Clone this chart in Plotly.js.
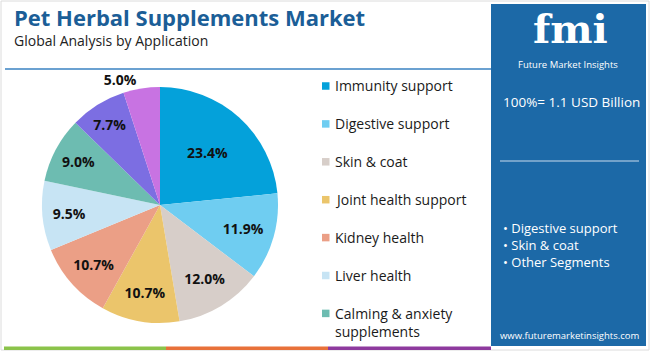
<!DOCTYPE html>
<html>
<head>
<meta charset="utf-8">
<script src="https://cdn.plot.ly/plotly-3.0.1.min.js"></script>
<style>html,body{margin:0;padding:0;background:#fff;}#chart{width:650px;height:351px;}</style>
</head>
<body>
<div id="chart"></div>
<script>
// ---- data ----
const categories = ["Immunity support","Digestive support","Skin & coat","Joint health support","Kidney health","Liver health","Calming & anxiety supplements","Cognitive health","Others"];
const shares = [23.4, 11.9, 12.0, 10.7, 10.7, 9.5, 9.0, 7.7, 5.0];
const sliceColors = ["#04A1DA","#6FCDF1","#D7CEC9","#EBC56B","#EB9F86","#C7E4F4","#6DBCB1","#7C6EE2","#C873E2"];
const legendLabels = ["Immunity support","Digestive support","Skin & coat","Joint health support","Kidney health","Liver health","Calming & anxiety<br>supplements"];
const titleText = "Pet Herbal Supplements Market";
const subtitleText = "Global Analysis by Application";
const totalText = "100%= 1.1 USD Billion";
const keySegments = ["Digestive support","Skin & coat","Other Segments"];
const siteText = "www.futuremarketinsights.com";

// ---- helpers (pixel -> paper) ----
const W = 650, H = 351;
const px = x => x / W;
const py = y => 1 - y / H;
const FONT = "Open Sans, Noto Sans, sans-serif";

const textPos = shares.map((v, i) => i === shares.length - 1 ? "outside" : "inside");

const trace = {
  type: "pie",
  labels: categories,
  values: shares,
  sort: false,
  direction: "clockwise",
  rotation: 0,
  marker: {colors: sliceColors, line: {width: 0}},
  texttemplate: "%{value:.1f}%",
  textposition: textPos,
  insidetextorientation: "horizontal",
  textfont: {family: FONT, size: 14, color: "#111", weight: 700},
  outsidetextfont: {family: FONT, size: 14, color: "#111", weight: 700},
  hoverinfo: "none",
  showlegend: false,
  domain: {x: [px(42), px(278)], y: [py(323), py(87)]}
};

const shapes = [
  {type: "rect", xref: "paper", yref: "paper", x0: px(1), x1: px(649), y0: py(350), y1: py(1), line: {color: "#dcdcdc", width: 1}},
  {type: "line", xref: "paper", yref: "paper", x0: px(5), x1: px(491), y0: py(69), y1: py(69), line: {color: "#3a82c2", width: 1.5}},
  {type: "rect", xref: "paper", yref: "paper", x0: px(491), x1: px(646), y0: py(346), y1: py(4), fillcolor: "#1C69A7", line: {width: 0}},
  {type: "line", xref: "paper", yref: "paper", x0: px(500), x1: px(639), y0: py(161), y1: py(161), line: {color: "#c9dced", width: 1}},
  {type: "rect", xref: "paper", yref: "paper", x0: px(4), x1: px(166), y0: py(350), y1: py(346.5), fillcolor: "#8BC34A", line: {width: 0}},
  {type: "rect", xref: "paper", yref: "paper", x0: px(166), x1: px(328), y0: py(350), y1: py(346.5), fillcolor: "#E8713A", line: {width: 0}},
  {type: "rect", xref: "paper", yref: "paper", x0: px(328), x1: px(491), y0: py(350), y1: py(346.5), fillcolor: "#8E3A9E", line: {width: 0}}
];

const annotations = [
  {text: titleText, x: px(12), y: py(17), xanchor: "left", yanchor: "middle", font: {family: FONT, size: 22, color: "#1B5E97", weight: 700}},
  {text: subtitleText, x: px(12), y: py(41), xanchor: "left", yanchor: "middle", font: {family: FONT, size: 14, color: "#222"}},
  {text: "fmi", x: px(570), y: py(54), xanchor: "center", yanchor: "bottom", font: {family: "DejaVu Serif, serif", size: 40, color: "#ffffff", weight: 700}},
  {text: "Future Market Insights", x: px(568), y: py(56), xanchor: "center", yanchor: "top", font: {family: FONT, size: 9.5, color: "#ffffff"}},
  {text: totalText, x: px(501), y: py(102), xanchor: "left", yanchor: "middle", font: {family: FONT, size: 13.5, color: "#ffffff"}},
  {text: siteText, x: px(570), y: py(335), xanchor: "center", yanchor: "middle", font: {family: FONT, size: 9.5, color: "#ffffff"}}
];

keySegments.forEach((s, i) => {
  annotations.push({text: "• " + s, x: px(501), y: py(228 + 17 * i), xanchor: "left", yanchor: "middle", font: {family: FONT, size: 13, color: "#ffffff"}});
});

legendLabels.forEach((lab, i) => {
  const yc = 86 + 37.9 * i;
  shapes.push({type: "rect", xref: "paper", yref: "paper", x0: px(322), x1: px(329.5), y0: py(yc + 3.75), y1: py(yc - 3.75), fillcolor: sliceColors[i], line: {width: 0}});
  const lines = lab.split("<br>").length;
  annotations.push({text: lab, x: px(333), y: py(yc + (lines - 1) * 9.5), xanchor: "left", yanchor: "middle", align: "left", font: {family: FONT, size: 14, color: "#1a1a1a"}});
});

annotations.forEach(a => { a.xref = "paper"; a.yref = "paper"; a.showarrow = false; });

const layout = {
  width: W, height: H,
  margin: {l: 0, r: 0, t: 0, b: 0},
  paper_bgcolor: "#ffffff",
  showlegend: false,
  shapes: shapes,
  annotations: annotations
};

Plotly.newPlot("chart", [trace], layout, {displayModeBar: false, staticPlot: true});
</script>
</body>
</html>
